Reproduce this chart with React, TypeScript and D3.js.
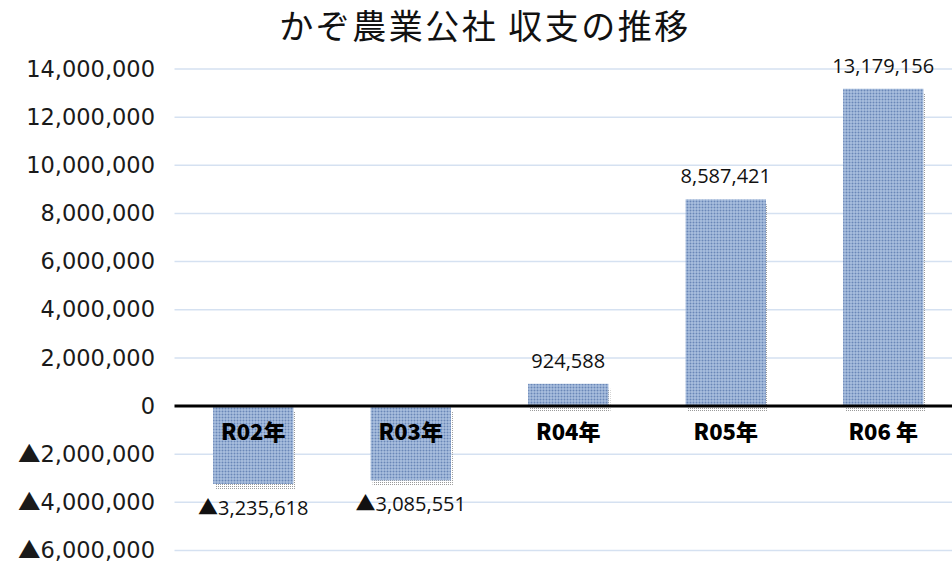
import React, { useEffect, useRef } from 'react'
import * as d3 from 'd3'

const years = ['R02年', 'R03年', 'R04年', 'R05年', 'R06 年']
const balance = [-3235618, -3085551, 924588, 8587421, 13179156]
const yTicks = [-6000000, -4000000, -2000000, 0, 2000000, 4000000, 6000000, 8000000, 10000000, 12000000, 14000000]
const title = 'かぞ農業公社 収支の推移'

const num = d3.format(',')

// negative numbers are written with a leading ▲ (full-width glyph)
const addLabel = (sel: any, v: number, fontFamily: string) => {
  if (v < 0) {
    sel.append('tspan').attr('font-family', 'Noto Sans CJK JP').text('▲')
  }
  sel.append('tspan').attr('font-family', fontFamily).text(num(Math.abs(v)))
}

const App = () => {
  const svgRef = useRef<SVGSVGElement>(null)

  useEffect(() => {
    const width = 952
    const height = 561
    const margin = { top: 69, right: -10, bottom: 10.5, left: 174.5 }

    const svg = d3.select(svgRef.current)
    svg.selectAll('*').remove()
    svg.attr('width', width).attr('height', height).style('background', '#fff')

    const defs = svg.append('defs')
    const bp = defs
      .append('pattern')
      .attr('id', 'barfill')
      .attr('patternUnits', 'userSpaceOnUse')
      .attr('width', 3)
      .attr('height', 3)
    bp.append('rect').attr('width', 3).attr('height', 3).attr('fill', '#a5bbdb')
    bp.append('rect').attr('width', 3).attr('height', 1).attr('fill', '#8fa8cf')
    bp.append('rect').attr('width', 1).attr('height', 3).attr('fill', '#8fa8cf')
    bp.append('rect').attr('width', 1).attr('height', 1).attr('fill', '#6a87b6')

    const sp = defs
      .append('pattern')
      .attr('id', 'shadow')
      .attr('patternUnits', 'userSpaceOnUse')
      .attr('width', 2)
      .attr('height', 2)
    sp.append('rect').attr('width', 1).attr('height', 1).attr('fill', '#9a9a9a')

    const x = d3
      .scaleBand()
      .domain(years)
      .range([margin.left, width - margin.right])
      .paddingInner(0.49)
      .paddingOuter(0.245)

    const y = d3
      .scaleLinear()
      .domain([-6000000, 14000000])
      .range([height - margin.bottom, margin.top])

    // gridlines
    svg
      .append('g')
      .selectAll('line')
      .data(yTicks.filter((d) => d !== 0))
      .enter()
      .append('line')
      .attr('x1', margin.left)
      .attr('x2', width)
      .attr('y1', (d) => y(d))
      .attr('y2', (d) => y(d))
      .attr('stroke', '#d5e1f1')
      .attr('stroke-width', 1.5)

    // y labels
    svg
      .append('g')
      .selectAll('text')
      .data(yTicks)
      .enter()
      .append('text')
      .attr('x', 155)
      .attr('y', (d) => y(d))
      .attr('dy', '0.34em')
      .attr('text-anchor', 'end')
      .attr('font-size', 22.5)
      .attr('fill', '#1a1a1a')
      .each(function (d) {
        addLabel(d3.select(this), d, 'DejaVu Sans')
      })

    const data = years.map((c, i) => ({ c, v: balance[i] }))
    const bw = x.bandwidth()

    // dotted shadow
    svg
      .append('g')
      .selectAll('rect')
      .data(data)
      .enter()
      .append('rect')
      .attr('x', (d) => x(d.c)! + 2)
      .attr('y', (d) => Math.min(y(d.v), y(0)) + 5)
      .attr('width', bw)
      .attr('height', (d) => Math.abs(y(d.v) - y(0)))
      .attr('fill', 'url(#shadow)')

    svg
      .append('g')
      .selectAll('rect')
      .data(data)
      .enter()
      .append('rect')
      .attr('x', (d) => x(d.c)!)
      .attr('y', (d) => Math.min(y(d.v), y(0)))
      .attr('width', bw)
      .attr('height', (d) => Math.abs(y(d.v) - y(0)))
      .attr('fill', 'url(#barfill)')

    // zero line
    svg
      .append('line')
      .attr('x1', margin.left)
      .attr('x2', width)
      .attr('y1', y(0))
      .attr('y2', y(0))
      .attr('stroke', '#000')
      .attr('stroke-width', 3)

    // value labels
    svg
      .append('g')
      .selectAll('text')
      .data(data)
      .enter()
      .append('text')
      .attr('x', (d) => x(d.c)! + bw / 2)
      .attr('y', (d) => (d.v >= 0 ? y(d.v) - 16 : y(d.v) + 31))
      .attr('text-anchor', 'middle')
      .attr('font-size', 20)
      .attr('fill', '#111')
      .each(function (d) {
        addLabel(d3.select(this), d.v, 'Open Sans')
      })

    // category labels
    svg
      .append('g')
      .selectAll('text')
      .data(years)
      .enter()
      .append('text')
      .attr('x', (d) => x(d)! + bw / 2)
      .attr('y', 440)
      .attr('text-anchor', 'middle')
      .attr('font-family', 'Noto Sans CJK JP')
      .attr('font-weight', 900)
      .attr('font-size', 22)
      .attr('fill', '#000')
      .text((d) => d)

    svg
      .append('text')
      .attr('x', 485)
      .attr('y', 39)
      .attr('text-anchor', 'middle')
      .attr('font-family', 'Noto Sans CJK JP')
      .attr('font-size', 34)
      .attr('letter-spacing', 2.5)
      .attr('fill', '#111')
      .text(title)
  }, [])

  return <svg ref={svgRef} style={{ position: 'absolute', left: 0, top: 0 }}></svg>
}

export default App
